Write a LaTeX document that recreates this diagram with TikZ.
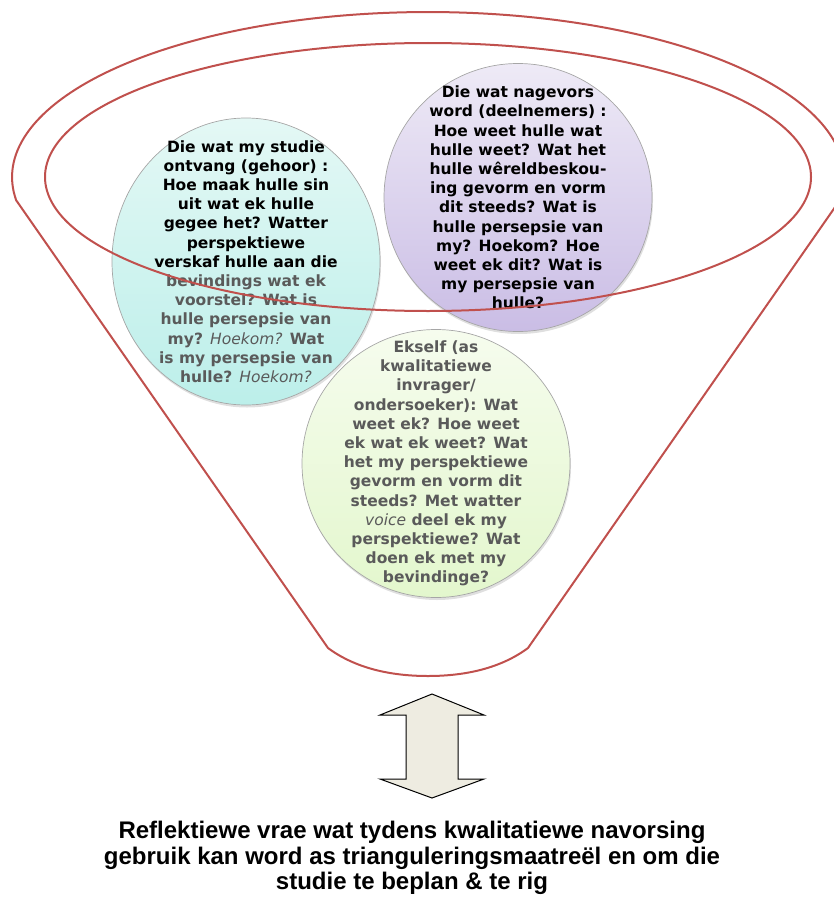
\documentclass[tikz,border=0pt]{standalone}
\usepackage{fontspec}
\usepackage{tikz}
\newfontfamily\bubblefont{DejaVu Sans}
\newfontfamily\titlefont{Liberation Sans}
\definecolor{FunnelRed}{HTML}{C0504D}
\definecolor{BubbleGray}{HTML}{5A5A5A}
\definecolor{ArrowFill}{HTML}{EEECE1}
\definecolor{AudTop}{HTML}{E4F8F5}
\definecolor{AudBottom}{HTML}{BCEFEA}
\definecolor{PartTop}{HTML}{EEEAF6}
\definecolor{PartBottom}{HTML}{CABDE5}
\definecolor{SelfTop}{HTML}{F6FCEE}
\definecolor{SelfBottom}{HTML}{E3F7CD}
\usetikzlibrary{
	shapes.geometric,
	shadows,
	positioning
}

\begin{document}
\begin{tikzpicture}[
		x=1pt, y=1pt,
		bubble/.style={ellipse, draw=gray!70, line width=0.7pt, inner sep=0pt,
			minimum width=268pt, minimum height=268pt,
			drop shadow={shadow xshift=1pt, shadow yshift=-2.5pt, opacity=0.25}},
		bubbletext/.style={align=center, inner sep=0pt,
			font=\bubblefont\bfseries\fontsize{15.5}{19.2}\selectfont},
		funnel/.style={draw=FunnelRed, line width=2pt, line join=round},
		updown/.style={draw=black, line width=1pt, fill=ArrowFill, line join=miter}
	]
		\clip (0,0) rectangle (834,-899);

		\node[bubble, minimum height=287pt, top color=AudTop, bottom color=AudBottom] at (246,-261.5) (audience) {};
		\node[bubble, top color=PartTop, bottom color=PartBottom] at (518,-197.5) (participants) {};
		\node[bubble, top color=SelfTop, bottom color=SelfBottom] at (436,-463.5) (self) {};

		\node[bubbletext] at (audience) (audiencetxt) {Die wat my studie\\ ontvang (gehoor) :\\ Hoe maak hulle sin\\ uit wat ek hulle\\ gegee het? Watter\\ perspektiewe\\ verskaf hulle aan die\\
			\textcolor{BubbleGray}{bevindings wat ek}\\ \textcolor{BubbleGray}{voorstel? Wat is}\\ \textcolor{BubbleGray}{hulle persepsie van}\\
			\textcolor{BubbleGray}{my? {\mdseries\itshape Hoekom?} Wat}\\ \textcolor{BubbleGray}{is my persepsie van}\\ \textcolor{BubbleGray}{hulle? {\mdseries\itshape Hoekom?}}};
		\node[bubbletext] at (participants) (participantstxt) {Die wat nagevors\\ word (deelnemers) :\\ Hoe weet hulle wat\\ hulle weet? Wat het\\ hulle wêreldbeskou-\\ ing gevorm en vorm\\ dit steeds? Wat is\\ hulle persepsie van\\ my? Hoekom? Hoe\\ weet ek dit? Wat is\\ my persepsie van\\ hulle?};
		\node[bubbletext, text=BubbleGray] at (self) (selftxt) {Ekself (as\\ kwalitatiewe\\ invrager/\\ ondersoeker): Wat\\ weet ek? Hoe weet\\ ek wat ek weet? Wat\\ het my perspektiewe\\ gevorm en vorm dit\\ steeds? Met watter\\ {\mdseries\itshape voice} deel ek my\\ perspektiewe? Wat\\ doen ek met my\\ bevindinge?};

		% funnel over the bubbles
		\draw[funnel] (16,-200) -- (328,-648) .. controls (355,-668) and (390,-676) .. (428,-676)
			.. controls (466,-676) and (501,-668) .. (528,-648) -- (840,-200)
			arc[start angle=-8, end angle=188, x radius=416pt, y radius=165pt] -- cycle;
		\draw[funnel] (428,-177) ellipse[x radius=383pt, y radius=134pt];

		\draw[updown] (432,-694) -- (484,-715) -- (458,-715) -- (458,-779) -- (484,-779) -- (432,-798)
			-- (380,-779) -- (406,-779) -- (406,-715) -- (380,-715) -- cycle;

		\node[align=center, inner sep=0pt, font=\titlefont\bfseries\fontsize{24}{25.5}\selectfont] at (412,-858) (caption) {Reflektiewe vrae wat tydens kwalitatiewe navorsing\\ gebruik kan word as trianguleringsmaatreël en om die\\ studie te beplan \& te rig};
	\end{tikzpicture}
\end{document}
